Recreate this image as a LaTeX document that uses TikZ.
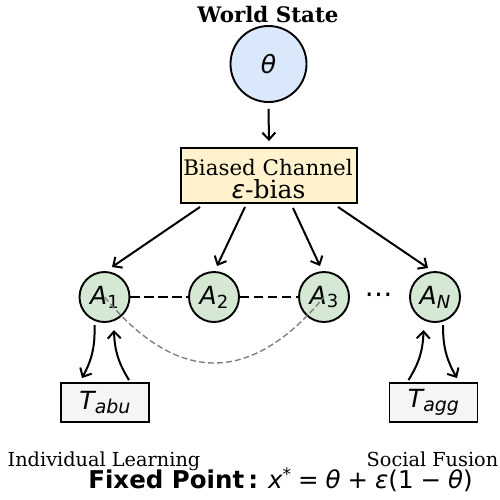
\documentclass[tikz,border=0pt]{standalone}
\usepackage{fontspec}
\setmainfont{DejaVu Serif}
\setsansfont{DejaVu Sans}
\newfontfamily\symfont{DejaVu Sans}
\usetikzlibrary{arrows.meta}

\definecolor{worldfill}{HTML}{DAE8FC}
\definecolor{channelfill}{HTML}{FFF2CC}
\definecolor{agentfill}{HTML}{D5E8D4}
\definecolor{taskfill}{HTML}{F5F5F5}
\definecolor{linkgray}{HTML}{808080}

% oblique and upright symbol glyphs
\newcommand{\mv}[1]{{\symfont\itshape #1}}
\newcommand{\mr}[1]{{\symfont\upshape #1}}
\newcommand{\lowsub}[2]{\raisebox{-3.8pt}{\fontsize{#1}{#1}\selectfont #2}}
\newcommand{\opsp}{\hspace{7pt}}

\begin{document}
\begin{tikzpicture}[x=1pt,y=-1pt,
  worldnode/.style={circle, draw, line width=1.9pt, fill=worldfill,
    minimum size=76pt, inner sep=0pt},
  channel/.style={rectangle, draw, line width=1.9pt, fill=channelfill,
    minimum width=176pt, minimum height=55pt, inner sep=0pt},
  agent/.style={circle, draw, line width=1.9pt, fill=agentfill,
    minimum size=50pt, inner sep=0pt},
  taskbox/.style={rectangle, draw, line width=1.9pt, fill=taskfill,
    minimum width=88pt, minimum height=39pt, inner sep=0pt},
  arr/.style={-{Straight Barb[length=7pt,width=13pt]}, line width=2pt},
  peer/.style={line width=2pt, dash pattern=on 9.5pt off 4.5pt},
  farlink/.style={line width=1.4pt, linkgray, dash pattern=on 6pt off 3pt},
  lbl/.style={inner sep=0pt, anchor=base},
]
\useasboundingbox (0,0) rectangle (500,499);

% world state
\node[lbl, font=\bfseries\fontsize{21.4}{21.4}\selectfont] (title) at (268,22) {World State};
\node[worldnode] (theta) at (268.5,64) {\fontsize{25}{25}\selectfont\mv{θ}};

% biased channel
\node[channel] (chan) at (269,175.5) {};
\node[lbl, font=\fontsize{21.4}{21.4}\selectfont] (chantxt) at (268,175) {Biased Channel};
\node[lbl, font=\fontsize{25}{25}\selectfont] (biastxt) at (268.5,198) {\mv{ε}-bias};

% agents
\node[agent] (a1) at (104.5,297) {\fontsize{25}{25}\selectfont\mv{A}\lowsub{18}{\mr{1}}};
\node[agent] (a2) at (214,297) {\fontsize{25}{25}\selectfont\mv{A}\lowsub{18}{\mr{2}}};
\node[agent] (a3) at (324,297) {\fontsize{25}{25}\selectfont\mv{A}\lowsub{18}{\mr{3}}};
\node[agent] (an) at (435,297) {\fontsize{25}{25}\selectfont\mv{A}\lowsub{18}{\mv{N}}};
\node[inner sep=0pt] (dots) at (378.5,298) {\fontsize{28}{28}\selectfont\mr{⋯}};

% task boxes
\node[taskbox] (tabu) at (105,402.5) {\fontsize{25}{25}\selectfont\mv{T}\lowsub{19}{\mv{abu}}};
\node[taskbox] (tagg) at (433.5,402.5) {\fontsize{25}{25}\selectfont\mv{T}\lowsub{19}{\mv{agg}}};

% world state feeds the channel
\draw[arr] ([shift={(0,6)}]theta.south) -- ([shift={(0,-6)}]chan.north);

% channel broadcasts to the agents
\draw[arr] ([shift={(-69,3)}]chan.south) -- ([shift={(7.5,-30)}]a1.center);
\draw[arr] ([shift={(-24,3)}]chan.south) -- ([shift={(3,-31)}]a2.center);
\draw[arr] ([shift={(24,4)}]chan.south) -- ([shift={(-4,-31)}]a3.center);
\draw[arr] ([shift={(69,3)}]chan.south) -- ([shift={(-7,-29)}]an.center);

% peer links
\draw[peer] (a1) -- (a2);
\draw[peer] (a2) -- (a3);
\draw[farlink] (a1.center) .. controls +(73,88) and +(-73,88) .. (a3.center);

% learning loops
\draw[arr] ([shift={(-10,28)}]a1.center) to[bend left=15] ([shift={(-23,-4)}]tabu.north);
\draw[arr] ([shift={(24,-2)}]tabu.north) to[bend left=15] ([shift={(9.5,33)}]a1.center);
\draw[arr] ([shift={(-25,-2)}]tagg.north) to[bend right=15] ([shift={(-11.5,33)}]an.center);
\draw[arr] ([shift={(8,28)}]an.center) to[bend right=15] ([shift={(23.5,-4)}]tagg.north);

% captions
\node[lbl, font=\fontsize{19.3}{19.3}\selectfont] (indiv) at (104,466) {Individual Learning};
\node[lbl, font=\fontsize{19.3}{19.3}\selectfont] (social) at (432.5,466) {Social Fusion};
\node[lbl, font=\fontsize{24.5}{24.5}\selectfont] (fixed) at (280.5,488)
  {{\sffamily\bfseries Fixed Point\,:}\hspace{10pt}\mv{x}\raisebox{8pt}{\fontsize{17}{17}\selectfont\mr{*}}\opsp\mr{=}\opsp\mv{θ}\opsp\mr{+}\opsp\mv{ε}\mr{(1}\opsp\mr{−}\opsp\mv{θ}\mr{)}};
\end{tikzpicture}
\end{document}
